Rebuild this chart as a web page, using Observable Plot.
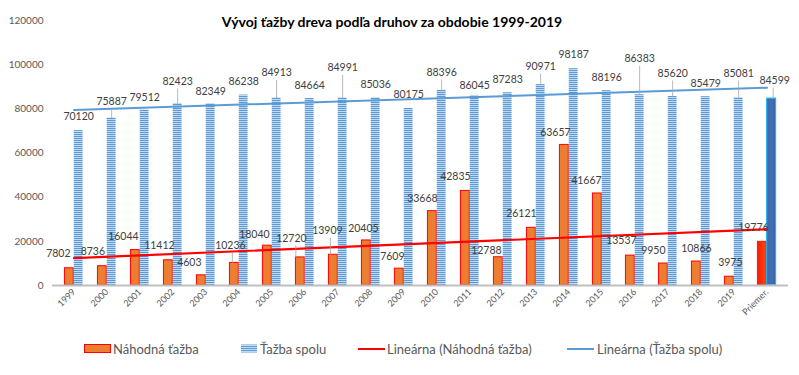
<!DOCTYPE html>
<html><head><meta charset="utf-8">
<script src="https://cdn.jsdelivr.net/npm/d3@7"></script>
<script src="https://cdn.jsdelivr.net/npm/@observablehq/plot@0.6"></script>
<style>
body{margin:0;background:#fff;font-family:Lato,"Open Sans",sans-serif;}
#wrap{position:relative;width:799px;height:375px;overflow:hidden;}
#title{position:absolute;left:0;width:784px;top:12px;text-align:center;font-weight:bold;font-size:14px;color:#000;line-height:20px;white-space:nowrap;}
.lg{position:absolute;top:341px;font-size:13px;color:#595959;line-height:16px;white-space:nowrap;}
.sw{position:absolute;}
</style></head>
<body>
<div id="wrap">
<div id="chart"></div>
<div id="title">Vývoj ťažby dreva podľa druhov za obdobie 1999-2019</div>
<div id="legend"></div>
</div>
<script>
// ---- data ----
const years = ["1999","2000","2001","2002","2003","2004","2005","2006","2007","2008","2009","2010","2011","2012","2013","2014","2015","2016","2017","2018","2019","Priemer."];
const nahodna = [7802,8736,16044,11412,4603,10236,18040,12720,13909,20405,7609,33668,42835,12788,26121,63657,41667,13537,9950,10866,3975,19776];
const spolu = [70120,75887,79512,82423,82349,86238,84913,84664,84991,85036,80175,88396,86045,87283,90971,98187,88196,86383,85620,85479,85081,84599];
// trend lines (at first and last category)
const trendNahodna = [12400,25500];
const trendSpolu = [79500,89550];
const yTicks = [0,20000,40000,60000,80000,100000,120000];
const seriesNames = ["Náhodná ťažba","Ťažba spolu","Lineárna (Náhodná ťažba)","Lineárna (Ťažba spolu)"];

// ---- label layout (pixel nudges) ----
const blueLift = [14,16,12,22,12,13,25,13,30,13,14,18,10,13,18,14,13,36,23,13,24,18];
const blueDx   = [0,0,0,0,0,0,0,0,0,0,0,0,0,0,0,0,0,0,0,0,0,3];
const orLift   = [15,15,13,15,13,17,11,19,24,12,12,13,14.5,7,14,12,13,14.5,13,13,14,14];
const orDx     = [-11,-9.5,-12,-9,-12,-4,-13,-9,-6,-3,-7,-10,-10,-12,-10,-9,-11,-9,-10,0,1,-9];
const blueLeader = [1,3,6,8,11,14,17,18,20,21];
const orLeader = [5,7,8];

const W=799,H=375,mL=52,mR=11,mT=20,mB=90;
const bw=(W-mL-mR)/years.length, half=bw/2, barW=9.3;
const k=(H-mT-mB)/120000;

const rows = years.map((y,i)=>({year:y,n:nahodna[i],s:spolu[i],i}));
const main = rows.slice(0,21), avg = rows.slice(21);
const labelColor="#404040";

const marks = [
  Plot.barY(main,{x:"year",y:"n",fill:"#ed7d31",stroke:"#ff0000",strokeWidth:1,insetLeft:half-barW,insetRight:half}),
  Plot.barY(main,{x:"year",y:"s",fill:"url(#stripes)",insetLeft:half,insetRight:half-barW}),
  Plot.barY(avg,{x:"year",y:"n",fill:"url(#redgrad)",stroke:"#e8200c",strokeWidth:1,insetLeft:half-barW,insetRight:half}),
  Plot.barY(avg,{x:"year",y:"s",fill:"url(#bluegrad)",stroke:"#1fb0ee",strokeWidth:1.2,insetLeft:half,insetRight:half-barW}),
  Plot.ruleY([0],{stroke:"#bfbfbf",strokeWidth:2}),
  Plot.line([{x:years[0],y:trendSpolu[0]},{x:years[years.length-1],y:trendSpolu[1]}],{x:"x",y:"y",stroke:"#5b9bd5",strokeWidth:2}),
  Plot.line([{x:years[0],y:trendNahodna[0]},{x:years[years.length-1],y:trendNahodna[1]}],{x:"x",y:"y",stroke:"#ff0000",strokeWidth:2.2}),
];
blueLeader.forEach(i=>{
  const d=rows[i];
  marks.push(Plot.link([d],{x1:"year",x2:"year",y1:d=>d.s,y2:d=>d.s+(blueLift[i]-7)/k,dx:half/2-2+blueDx[i]*0.5+4.65-half/2+2,stroke:"#a6a6a6",strokeWidth:0.8}));
});
orLeader.forEach(i=>{
  const d=rows[i];
  marks.push(Plot.link([d],{x1:"year",x2:"year",y1:d=>d.n,y2:d=>d.n+(orLift[i]-7)/k,dx:-4.65+orDx[i]*0.5,stroke:"#a6a6a6",strokeWidth:0.8}));
});
rows.forEach((d,i)=>{
  marks.push(Plot.text([d],{x:"year",y:"s",text:d=>String(d.s),dx:4.65+blueDx[i],dy:-blueLift[i],fill:labelColor,fontSize:10.5}));
  marks.push(Plot.text([d],{x:"year",y:"n",text:d=>String(d.n),dx:-4.65+orDx[i],dy:-orLift[i],fill:labelColor,fontSize:10.5}));
});
marks.push(Plot.axisY({ticks:yTicks,tickSize:0,tickPadding:9,fontSize:10,color:"#595959",tickFormat:d=>String(d)}));
marks.push(Plot.axisX({tickSize:0,tickRotate:-45,tickPadding:5,fontSize:9,color:"#595959"}));

const chart = Plot.plot({
  width:W,height:H,marginLeft:mL,marginRight:mR,marginTop:mT,marginBottom:mB,
  style:{fontFamily:"Lato, 'Open Sans', sans-serif",background:"#fff",overflow:"visible"},
  x:{type:"band",domain:years,padding:0},
  y:{domain:[0,120000]},
  marks
});
const ns="http://www.w3.org/2000/svg";
const defs=document.createElementNS(ns,"defs");
defs.innerHTML=`
<pattern id="stripes" patternUnits="userSpaceOnUse" width="4" height="2">
 <rect width="4" height="2" fill="#5b9bd5"/><rect y="1" width="4" height="1" fill="#c2d9f1"/>
</pattern>
<linearGradient id="redgrad" x1="0" x2="1" y1="0" y2="0">
 <stop offset="0" stop-color="#ff1a00"/><stop offset="0.7" stop-color="#ff3a10"/><stop offset="1" stop-color="#e8501e"/>
</linearGradient>
<linearGradient id="bluegrad" x1="0" x2="1" y1="0" y2="0">
 <stop offset="0" stop-color="#3a64a8"/><stop offset="0.5" stop-color="#4470b2"/><stop offset="1" stop-color="#3a64a8"/>
</linearGradient>`;
chart.insertBefore(defs,chart.firstChild);
document.getElementById("chart").appendChild(chart);

// legend
const lg=document.getElementById("legend");
function add(html){lg.insertAdjacentHTML("beforeend",html);}
add(`<svg class="sw" style="left:84px;top:344px" width="27" height="10"><rect x="0.5" y="0.5" width="26" height="8" fill="#ed7d31" stroke="#ff0000"/></svg>`);
add(`<div class="lg" style="left:113px">${seriesNames[0]}</div>`);
add(`<svg class="sw" style="left:241px;top:344px" width="17" height="10"><defs><pattern id="stripes2" patternUnits="userSpaceOnUse" width="4" height="2"><rect width="4" height="2" fill="#5b9bd5"/><rect y="1" width="4" height="1" fill="#c2d9f1"/></pattern></defs><rect x="0" y="0.5" width="16" height="8" fill="url(#stripes2)"/></svg>`);
add(`<div class="lg" style="left:260px">${seriesNames[1]}</div>`);
add(`<svg class="sw" style="left:358px;top:344px" width="28" height="10"><line x1="0" x2="27" y1="5" y2="5" stroke="#ff0000" stroke-width="2"/></svg>`);
add(`<div class="lg" style="left:387px">${seriesNames[2]}</div>`);
add(`<svg class="sw" style="left:567px;top:344px" width="28" height="10"><line x1="0" x2="27" y1="5" y2="5" stroke="#5b9bd5" stroke-width="2"/></svg>`);
add(`<div class="lg" style="left:597px">${seriesNames[3]}</div>`);
</script>
</body></html>
